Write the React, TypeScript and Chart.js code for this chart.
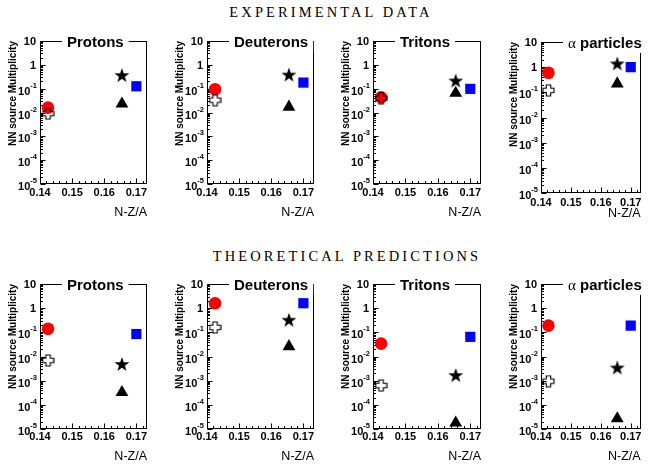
import React, { useEffect, useRef } from "react";
import { Chart, registerables } from "chart.js";
Chart.register(...registerables);

// ---------- data ----------
const particleNames = ["Protons", "Deuterons", "Tritons", "α particles"];
const sectionTitles = ["EXPERIMENTAL DATA", "THEORETICAL PREDICTIONS"];
const xTickValues = [0.14, 0.15, 0.16, 0.17];
const xTickLabels = ["0.14", "0.15", "0.16", "0.17"];
const yDecadeExponents = [1, 0, -1, -2, -3, -4, -5];
const xAxisTitle = "N-Z/A";
const yAxisTitle = "NN source Multiplicity";

// N-Z/A position of each marker: red circle, open cross, star, triangle, blue square
const markerX = [0.1425, 0.1425, 0.1655, 0.1655, 0.17];

// experimental data, one entry per particle (p, d, t, alpha)
const expRedCircle = [0.016, 0.095, 0.043, 0.6];
const expOpenCross = [0.009, 0.033, 0.04, 0.12];
const expStar = [0.37, 0.39, 0.22, 1.4];
const expTriangle = [0.023, 0.017, 0.065, 0.22];
const expBlueSquare = [0.126, 0.18, 0.098, 1.0];

// theoretical predictions
const thRedCircle = [0.14, 1.6, 0.034, 0.19];
const thOpenCross = [0.0069, 0.16, 0.00063, 0.00095];
const thStar = [0.0049, 0.33, 0.0017, 0.0035];
const thTriangle = [0.00033, 0.026, 0.000018, 0.000027];
const thBlueSquare = [0.085, 1.6, 0.065, 0.19];

// ---------- layout ----------
const FONT = "'Liberation Sans', Arial, Helvetica, sans-serif";
const PLOT_LEFT = [40, 207, 373, 541];
const PLOT_RIGHT = [147, 314, 481, 647];
const ROWS = [
  { top: [41, 41, 41, 42], bottom: [184, 184, 184, 193], tickGap: [9, 9, 9, 10], titleGap: [29, 29, 29, 21] },
  { top: [284, 284, 284, 284], bottom: [429, 429, 429, 429], tickGap: [8, 8, 8, 8], titleGap: [28, 28, 28, 28] },
];

let markerCache: any = null;
function makeStar() {
  const R = 7.8, r = 3.1;
  const c = document.createElement("canvas");
  c.width = 18; c.height = 18;
  const g = c.getContext("2d")!;
  g.beginPath();
  for (let i = 0; i < 10; i++) {
    const a = -Math.PI / 2 + (i * Math.PI) / 5;
    const rad = i % 2 === 0 ? R : r;
    g.lineTo(9 + rad * Math.cos(a), 9.7 + rad * Math.sin(a));
  }
  g.closePath();
  g.fillStyle = "#000";
  g.fill();
  return c;
}
function makeCross() {
  const c = document.createElement("canvas");
  c.width = 13; c.height = 13;
  const g = c.getContext("2d")!;
  const m = 6.5, w = 2.2, L = 5.5;
  g.beginPath();
  g.moveTo(m - w, m - L); g.lineTo(m + w, m - L); g.lineTo(m + w, m - w);
  g.lineTo(m + L, m - w); g.lineTo(m + L, m + w); g.lineTo(m + w, m + w);
  g.lineTo(m + w, m + L); g.lineTo(m - w, m + L); g.lineTo(m - w, m + w);
  g.lineTo(m - L, m + w); g.lineTo(m - L, m - w); g.lineTo(m - w, m - w);
  g.closePath();
  g.strokeStyle = "#000";
  g.lineWidth = 1.1;
  g.stroke();
  return c;
}
function markers() {
  if (!markerCache) {
    markerCache = [
      { pointStyle: "circle", backgroundColor: "#ff0000", borderColor: "#ff0000", radius: 6.3 },
      { pointStyle: makeCross(), backgroundColor: "#000", borderColor: "#000", radius: 6 },
      { pointStyle: makeStar(), backgroundColor: "#000", borderColor: "#000", radius: 6 },
      { pointStyle: "triangle", backgroundColor: "#000", borderColor: "#000", radius: 7.4 },
      { pointStyle: "rect", backgroundColor: "#0000ff", borderColor: "#0000ff", radius: 7.2 },
    ];
  }
  return markerCache;
}

function decorPlugin(title: string, tickGap: number, titleGap: number) {
  return {
    id: "panelDecor",
    beforeDatasetsDraw(chart: any) {
      const { ctx, chartArea: a, scales } = chart;
      const xs = scales.x, ys = scales.y;
      ctx.save();
      ctx.strokeStyle = "#000";
      ctx.lineWidth = 1;
      const L = Math.round(a.left) + 0.5, T = Math.round(a.top) + 0.5;
      const R = Math.round(a.right) - 0.5, B = Math.round(a.bottom) - 0.5;
      ctx.strokeRect(L, T, R - L, B - T);
      ctx.beginPath();
      for (let e = -5; e <= 0; e++) {
        for (let m = 1; m <= 9; m++) {
          const y = Math.round(ys.getPixelForValue(m * Math.pow(10, e))) + 0.5;
          const len = m === 1 ? 5 : 2.5;
          ctx.moveTo(L, y); ctx.lineTo(L + len, y);
        }
      }
      for (let i = 0; i <= 16; i++) {
        const x = Math.round(xs.getPixelForValue(0.14 + i * 0.002)) + 0.5;
        const len = i % 5 === 0 ? 5 : 2.5;
        ctx.moveTo(x, B); ctx.lineTo(x, B - len);
      }
      ctx.stroke();
      ctx.restore();
    },
    afterDatasetsDraw(chart: any) {
      const { ctx, chartArea: a, scales } = chart;
      const xs = scales.x, ys = scales.y;
      ctx.save();
      ctx.fillStyle = "#000";
      // y tick labels
      ctx.textAlign = "right";
      ctx.textBaseline = "alphabetic";
      for (const e of yDecadeExponents) {
        const y = ys.getPixelForValue(Math.pow(10, e));
        const rx = a.left - 3;
        if (e === 1 || e === 0) {
          ctx.font = `bold 11px ${FONT}`;
          ctx.fillText(e === 1 ? "10" : "1", rx - 1, y + 4);
        } else {
          ctx.font = `bold 7.5px ${FONT}`;
          const sup = String(e);
          const w = ctx.measureText(sup).width;
          ctx.fillText(sup, rx, y - 1);
          ctx.font = `bold 11px ${FONT}`;
          ctx.fillText("10", rx - w, y + 6);
        }
      }
      // x tick labels
      ctx.textAlign = "center";
      ctx.textBaseline = "middle";
      ctx.font = `bold 11px ${FONT}`;
      xTickValues.forEach((v, i) => {
        ctx.fillText(xTickLabels[i], xs.getPixelForValue(v), a.bottom + tickGap);
      });
      // x axis title
      ctx.textAlign = "right";
      ctx.font = `12.5px ${FONT}`;
      ctx.fillText(xAxisTitle, a.right, a.bottom + titleGap);
      // y axis title
      ctx.save();
      ctx.translate(a.left - 27, a.top);
      ctx.rotate(-Math.PI / 2);
      ctx.textAlign = "right";
      ctx.textBaseline = "middle";
      ctx.font = `bold 10px ${FONT}`;
      ctx.fillText(yAxisTitle, 0, 0);
      ctx.restore();
      // title box
      const tx = a.left + 27;
      const ty = a.top + 2;
      let parts: { t: string; f: string }[] = [];
      if (title.startsWith("α")) {
        parts = [
          { t: "α", f: `15px 'Liberation Serif', serif` },
          { t: title.slice(1), f: `bold 15px ${FONT}` },
        ];
      } else parts = [{ t: title, f: `bold 15px ${FONT}` }];
      let tw = 0;
      for (const p of parts) { ctx.font = p.f; tw += ctx.measureText(p.t).width; }
      ctx.fillStyle = "#fff";
      ctx.fillRect(tx - 5, a.top - 10, tw + 10, 21);
      ctx.fillStyle = "#000";
      ctx.textAlign = "left";
      ctx.textBaseline = "middle";
      let cx = tx;
      for (const p of parts) { ctx.font = p.f; ctx.fillText(p.t, cx, ty); cx += ctx.measureText(p.t).width; }
      ctx.restore();
    },
  };
}

function Panel({ row, col, values }: { row: number; col: number; values: number[] }) {
  const ref = useRef<HTMLCanvasElement>(null);
  const r = ROWS[row];
  const top = r.top[col], bottom = r.bottom[col];
  const left = PLOT_LEFT[col], right = PLOT_RIGHT[col];
  const cLeft = left - 40, cTop = top - 20;
  const cW = Math.min(167, 648 - cLeft);
  const cH = bottom + 36 - cTop;
  useEffect(() => {
    const canvas = ref.current!;
    const mk = markers();
    const drawOrder = [1, 0, 2, 3, 4];
    const datasets = drawOrder.map((k) => ({
      data: [{ x: markerX[k], y: values[k] }],
      pointStyle: mk[k].pointStyle,
      pointRadius: mk[k].radius,
      pointBackgroundColor: mk[k].backgroundColor,
      pointBorderColor: mk[k].borderColor,
      pointBorderWidth: 0,
      showLine: false,
    }));
    const chart = new Chart(canvas, {
      type: "scatter",
      data: { datasets } as any,
      options: {
        animation: false,
        responsive: false,
        maintainAspectRatio: false,
        devicePixelRatio: 1,
        events: [],
        layout: { padding: { left: 40, top: 20, right: cW - 40 - (right - left), bottom: 36 } },
        plugins: { legend: { display: false }, tooltip: { enabled: false } },
        scales: {
          x: { type: "linear", min: 0.14, max: 0.1733, display: false },
          y: { type: "logarithmic", min: 1e-5, max: 10, display: false },
        },
      } as any,
      plugins: [decorPlugin(particleNames[col], r.tickGap[col], r.titleGap[col])],
    });
    return () => chart.destroy();
  }, []);
  return (
    <canvas
      ref={ref}
      width={cW}
      height={cH}
      style={{ position: "absolute", left: cLeft, top: cTop, width: cW, height: cH }}
    />
  );
}

export default function App() {
  const exp = [expRedCircle, expOpenCross, expStar, expTriangle, expBlueSquare];
  const th = [thRedCircle, thOpenCross, thStar, thTriangle, thBlueSquare];
  const titleStyle: React.CSSProperties = {
    position: "absolute",
    fontFamily: "'Liberation Serif', 'DejaVu Serif', serif",
    fontSize: 14.5,
    letterSpacing: 3.1,
    lineHeight: "16px",
    whiteSpace: "nowrap",
    transform: "translateX(-50%)",
    color: "#000",
  };
  return (
    <div style={{ position: "fixed", left: 0, top: 0, width: 648, height: 464, background: "#fff", overflow: "hidden" }}>
      <div style={{ ...titleStyle, left: 331, top: 4 }}>{sectionTitles[0]}</div>
      <div style={{ ...titleStyle, left: 347, top: 248 }}>{sectionTitles[1]}</div>
      {particleNames.map((_, col) => (
        <Panel key={"e" + col} row={0} col={col} values={exp.map((s) => s[col])} />
      ))}
      {particleNames.map((_, col) => (
        <Panel key={"t" + col} row={1} col={col} values={th.map((s) => s[col])} />
      ))}
    </div>
  );
}
